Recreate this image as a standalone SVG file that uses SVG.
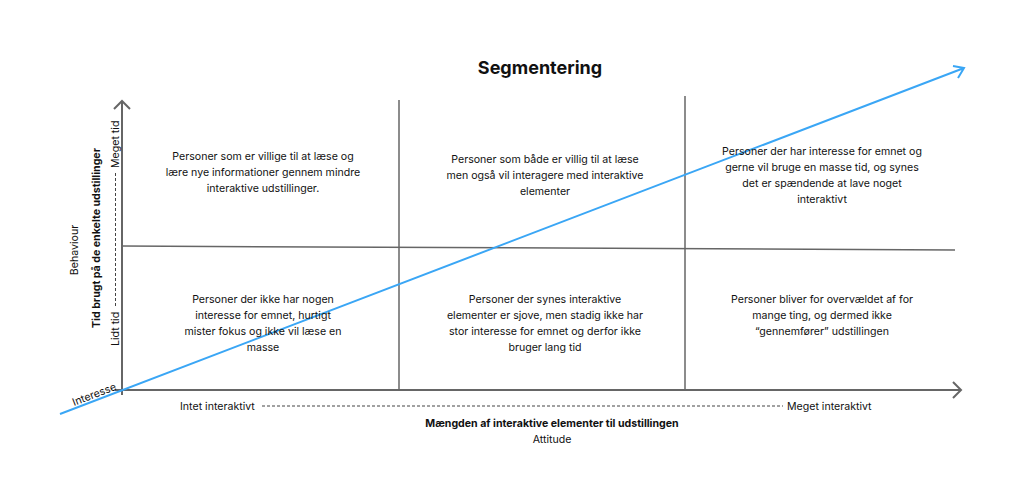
<svg xmlns="http://www.w3.org/2000/svg" width="1024" height="501" viewBox="0 0 1024 501">
<style>
text{font-family:Inter,"Liberation Sans",sans-serif;fill:#111;font-size:10.6px}
.c{text-anchor:middle}
.ax{stroke:#666;stroke-width:2;fill:none}
.g{stroke:#666;stroke-width:1.5;fill:none}
.d{stroke:#444;stroke-width:1;stroke-dasharray:3 2;fill:none}
.b{font-weight:bold}
</style>
<rect width="1024" height="501" fill="#fff"/>
<g id="connectors">
<path class="ax" d="M122 395V101M114 109L122 101L130 109"/>
<path class="ax" d="M115 390H961M953 382L961 390L953 398"/>
<path class="g" d="M399 100V391"/>
<path class="g" d="M685 96V389"/>
<path class="g" d="M122 246L955 250"/>
<path d="M60 414L964 68M953 66L964 68L958 78" stroke="#3aa6f5" stroke-width="2" fill="none"/>
<path class="d" d="M262 406H783"/>
<path class="d" d="M115.5 306V172"/>
</g>
<g id="title"><text x="540" y="74" class="c b" style="font-size:18px">Segmentering</text></g>
<g id="q1"><text class="c" x="263" y="160">Personer som er villige til at læse og</text><text class="c" x="263" y="176">lære nye informationer gennem mindre</text><text class="c" x="263" y="192">interaktive udstillinger.</text></g>
<g id="q2"><text class="c" x="545" y="163">Personer som både er villig til at læse</text><text class="c" x="545" y="179">men også vil interagere med interaktive</text><text class="c" x="545" y="195">elementer</text></g>
<g id="q3"><text class="c" x="822" y="155">Personer der har interesse for emnet og</text><text class="c" x="822" y="171">gerne vil bruge en masse tid, og synes</text><text class="c" x="822" y="187">det er spændende at lave noget</text><text class="c" x="822" y="203">interaktivt</text></g>
<g id="q4"><text class="c" x="263" y="303">Personer der ikke har nogen</text><text class="c" x="263" y="319">interesse for emnet, hurtigt</text><text class="c" x="263" y="335">mister fokus og ikke vil læse en</text><text class="c" x="263" y="351">masse</text></g>
<g id="q5"><text class="c" x="545" y="303">Personer der synes interaktive</text><text class="c" x="545" y="319">elementer er sjove, men stadig ikke har</text><text class="c" x="545" y="335">stor interesse for emnet og derfor ikke</text><text class="c" x="545" y="351">bruger lang tid</text></g>
<g id="q6"><text class="c" x="822" y="303">Personer bliver for overvældet af for</text><text class="c" x="822" y="319">mange ting, og dermed ikke</text><text class="c" x="822" y="335">“gennemfører” udstillingen</text></g>
<g id="xlabels">
<text x="180" y="410">Intet interaktivt</text>
<text x="787" y="410">Meget interaktivt</text>
<text class="c b" x="552" y="427">Mængden af interaktive elementer til udstillingen</text>
<text class="c" x="552" y="443">Attitude</text>
</g>
<g id="ylabels">
<text transform="translate(119,346) rotate(-90)">Lidt tid</text>
<text transform="translate(119,168) rotate(-90)">Meget tid</text>
<text class="c b" transform="translate(100,238) rotate(-90)">Tid brugt på de enkelte udstillinger</text>
<text class="c" transform="translate(78,250) rotate(-90)">Behaviour</text>
<text transform="translate(74,406) rotate(-21)">Interesse</text>
</g>
</svg>
